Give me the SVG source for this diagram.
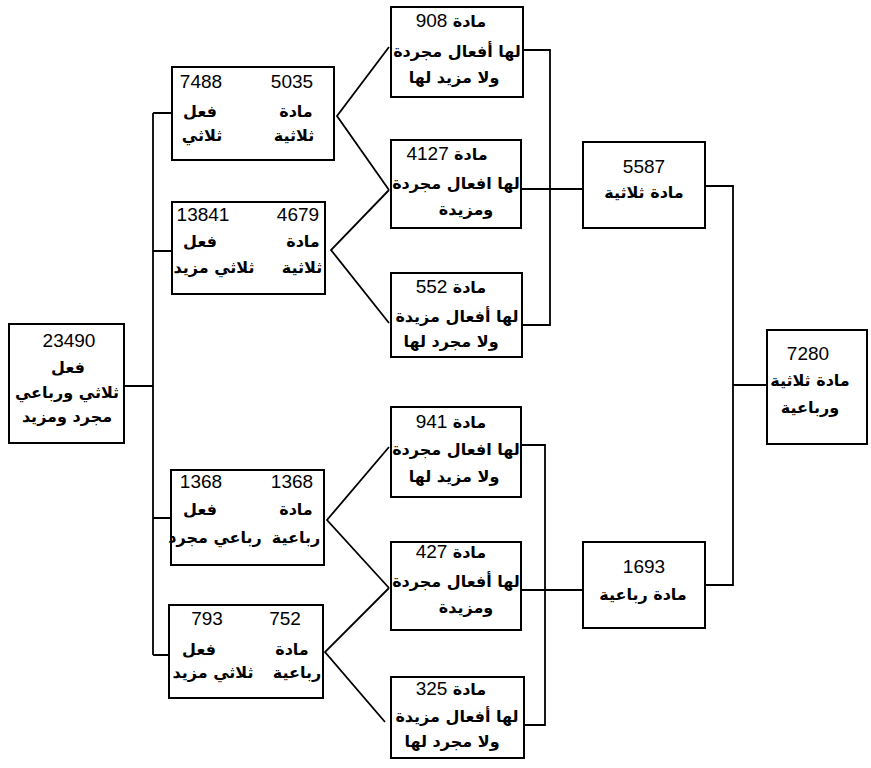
<svg xmlns="http://www.w3.org/2000/svg" width="871" height="768" viewBox="0 0 871 768">
<style>
.box{fill:#fff;stroke:#000;stroke-width:2}
.ln{fill:none;stroke:#000;stroke-width:1.8;stroke-linejoin:miter}
.num{font-family:"Liberation Sans","DejaVu Sans",sans-serif;font-size:19px;fill:#000;text-anchor:middle}
.ar{font-family:"DejaVu Sans",sans-serif;font-size:16px;font-weight:bold;fill:#000;text-anchor:middle}
.mx{font-family:"Liberation Sans","DejaVu Sans",sans-serif;font-size:19px;fill:#000;text-anchor:middle}
.mx tspan.a{font-family:"DejaVu Sans",sans-serif;font-size:16px;font-weight:bold}
</style>
<rect width="871" height="768" fill="#fff"/>
<g id="connectors">
<path class="ln" d="M124,386H153M153,113V655M153,113H172M153,251H172M153,518H171M153,655H169"/>
<path class="ln" d="M389,47L337,116L389,190M389,190L331,250L389,323"/>
<path class="ln" d="M389,447L327,520L389,588M389,588L325,652L385,722"/>
<path class="ln" d="M523,50H550V325H522M521,189H583"/>
<path class="ln" d="M521,445H545V725H524M521,590H583"/>
<path class="ln" d="M705,186H733V585H705M733,385H767"/>
</g>
<g id="n0">
<rect class="box" x="9" y="324" width="115" height="119"/>
<text class="num" x="69" y="347">23490</text>
<text class="ar" x="68" y="373">فعل</text>
<text class="ar" x="67" y="398">ثلاثي ورباعي</text>
<text class="ar" x="67" y="422">مجرد ومزيد</text>
</g>
<g id="n1">
<rect class="box" x="172" y="67" width="162" height="93"/>
<text class="num" x="201" y="88">7488</text>
<text class="num" x="292" y="88">5035</text>
<text class="ar" x="200" y="117">فعل</text>
<text class="ar" x="296" y="117">مادة</text>
<text class="ar" x="202" y="141">ثلاثي</text>
<text class="ar" x="294" y="141">ثلاثية</text>
</g>
<g id="n2">
<rect class="box" x="172" y="202" width="153" height="92"/>
<text class="num" x="203" y="221">13841</text>
<text class="num" x="298" y="221">4679</text>
<text class="ar" x="200" y="247">فعل</text>
<text class="ar" x="303" y="247">مادة</text>
<text class="ar" x="214" y="273">ثلاثي مزيد</text>
<text class="ar" x="302" y="273">ثلاثية</text>
</g>
<g id="n3">
<rect class="box" x="171" y="470" width="153" height="95"/>
<text class="num" x="201" y="488">1368</text>
<text class="num" x="292" y="488">1368</text>
<text class="ar" x="200" y="515">فعل</text>
<text class="ar" x="296" y="515">مادة</text>
<text class="ar" x="215" y="543">رباعي مجرد</text>
<text class="ar" x="296" y="543">رباعية</text>
</g>
<g id="n4">
<rect class="box" x="169" y="605" width="154" height="93"/>
<text class="num" x="207" y="625">793</text>
<text class="num" x="285" y="625">752</text>
<text class="ar" x="199" y="655">فعل</text>
<text class="ar" x="292" y="655">مادة</text>
<text class="ar" x="213" y="678">ثلاثي مزيد</text>
<text class="ar" x="297" y="678">رباعية</text>
</g>
<g id="m1">
<rect class="box" x="391" y="7" width="132" height="90"/>
<text class="mx" x="451" y="27">908 <tspan class="a">مادة</tspan></text>
<text class="ar" x="457" y="57">لها أفعال مجردة</text>
<text class="ar" x="454" y="83">ولا مزيد لها</text>
</g>
<g id="m2">
<rect class="box" x="391" y="140" width="130" height="88"/>
<text class="mx" x="447" y="160">4127 <tspan class="a">مادة</tspan></text>
<text class="ar" x="456" y="189">لها افعال مجردة</text>
<text class="ar" x="466" y="215">ومزيدة</text>
</g>
<g id="m3">
<rect class="box" x="391" y="273" width="131" height="84"/>
<text class="mx" x="451" y="293">552 <tspan class="a">مادة</tspan></text>
<text class="ar" x="457" y="322">لها أفعال مزيدة</text>
<text class="ar" x="451" y="347">ولا مجرد لها</text>
</g>
<g id="m4">
<rect class="box" x="391" y="407" width="130" height="90"/>
<text class="mx" x="451" y="428">941 <tspan class="a">مادة</tspan></text>
<text class="ar" x="456" y="455">لها افعال مجردة</text>
<text class="ar" x="454" y="482">ولا مزيد لها</text>
</g>
<g id="m5">
<rect class="box" x="391" y="542" width="130" height="88"/>
<text class="mx" x="451" y="558">427 <tspan class="a">مادة</tspan></text>
<text class="ar" x="456" y="587">لها أفعال مجردة</text>
<text class="ar" x="466" y="613">ومزيدة</text>
</g>
<g id="m6">
<rect class="box" x="391" y="677" width="133" height="81"/>
<text class="mx" x="451" y="695">325 <tspan class="a">مادة</tspan></text>
<text class="ar" x="457" y="722">لها أفعال مزيدة</text>
<text class="ar" x="452" y="747">ولا مجرد لها</text>
</g>
<g id="r1">
<rect class="box" x="583" y="142" width="122" height="86"/>
<text class="num" x="644" y="173">5587</text>
<text class="ar" x="644" y="198">مادة ثلاثية</text>
</g>
<g id="r2">
<rect class="box" x="583" y="542" width="122" height="86"/>
<text class="num" x="644" y="573">1693</text>
<text class="ar" x="643" y="600">مادة رباعية</text>
</g>
<g id="f">
<rect class="box" x="767" y="330" width="100" height="114"/>
<text class="num" x="808" y="360">7280</text>
<text class="ar" x="810" y="386">مادة ثلاثية</text>
<text class="ar" x="810" y="413">ورباعية</text>
</g>
</svg>
